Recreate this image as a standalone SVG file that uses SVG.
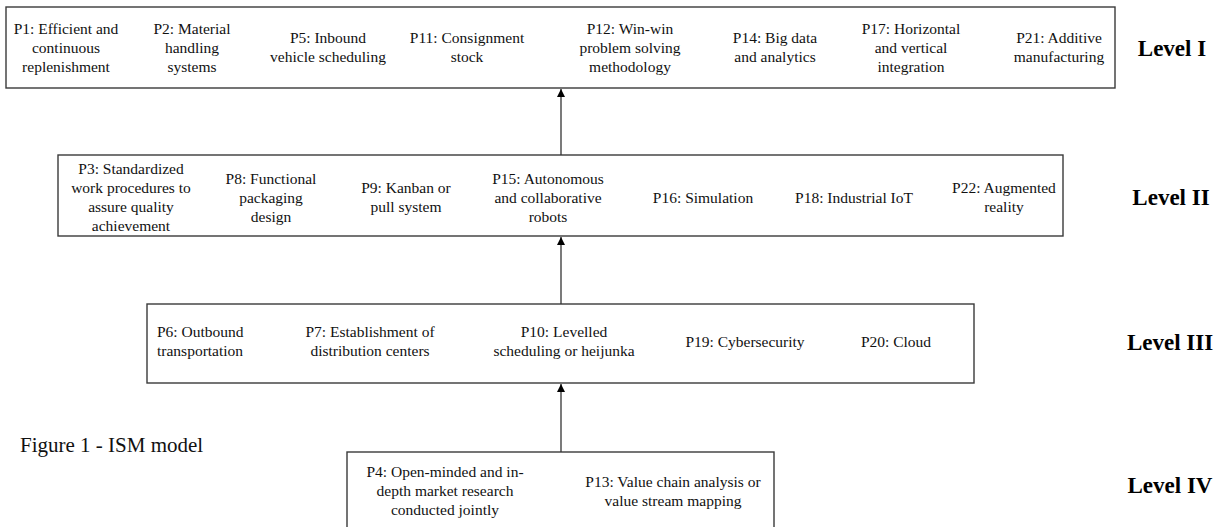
<svg xmlns="http://www.w3.org/2000/svg" width="1229" height="527" viewBox="0 0 1229 527">
<defs>
<style>
.box{fill:#fff;stroke:#3a3a3a;stroke-width:1.4}
.t{font-family:"Liberation Serif","Times New Roman",serif;font-size:15.5px;fill:#111;text-anchor:middle}
.l{text-anchor:start}
.lv{font-family:"Liberation Serif","Times New Roman",serif;font-size:23px;font-weight:bold;fill:#000;text-anchor:middle}
.cap{font-family:"Liberation Serif","Times New Roman",serif;font-size:21px;fill:#111}
.conn{stroke:#333;stroke-width:1.3;fill:none}
</style>
<marker id="arr" viewBox="0 0 8 10" refX="8" refY="5" markerWidth="8" markerHeight="10" markerUnits="userSpaceOnUse" orient="auto">
<path d="M0,1 L8,5 L0,9 Z" fill="#000"/>
</marker>
</defs>
<rect width="1229" height="527" fill="#fff"/>

<g id="level1">
<rect class="box" x="6" y="7" width="1109" height="81"/>
<text class="t"><tspan x="66" y="34">P1: Efficient and</tspan><tspan x="66" y="53">continuous</tspan><tspan x="66" y="72">replenishment</tspan></text>
<text class="t"><tspan x="192" y="34">P2: Material</tspan><tspan x="192" y="53">handling</tspan><tspan x="192" y="72">systems</tspan></text>
<text class="t"><tspan x="328" y="43">P5: Inbound</tspan><tspan x="328" y="62">vehicle scheduling</tspan></text>
<text class="t"><tspan x="467" y="43">P11: Consignment</tspan><tspan x="467" y="62">stock</tspan></text>
<text class="t"><tspan x="630" y="34">P12: Win-win</tspan><tspan x="630" y="53">problem solving</tspan><tspan x="630" y="72">methodology</tspan></text>
<text class="t"><tspan x="775" y="43">P14: Big data</tspan><tspan x="775" y="62">and analytics</tspan></text>
<text class="t"><tspan x="911" y="34">P17: Horizontal</tspan><tspan x="911" y="53">and vertical</tspan><tspan x="911" y="72">integration</tspan></text>
<text class="t"><tspan x="1059" y="43">P21: Additive</tspan><tspan x="1059" y="62">manufacturing</tspan></text>
<text class="lv" x="1172" y="56">Level I</text>
</g>

<g id="level2">
<rect class="box" x="58" y="155" width="1005" height="81"/>
<text class="t"><tspan x="131" y="174">P3: Standardized</tspan><tspan x="131" y="193">work procedures to</tspan><tspan x="131" y="212">assure quality</tspan><tspan x="131" y="231">achievement</tspan></text>
<text class="t"><tspan x="271" y="184">P8: Functional</tspan><tspan x="271" y="203">packaging</tspan><tspan x="271" y="222">design</tspan></text>
<text class="t"><tspan x="406" y="193">P9: Kanban or</tspan><tspan x="406" y="212">pull system</tspan></text>
<text class="t"><tspan x="548" y="184">P15: Autonomous</tspan><tspan x="548" y="203">and collaborative</tspan><tspan x="548" y="222">robots</tspan></text>
<text class="t" x="703" y="203">P16: Simulation</text>
<text class="t" x="854" y="203">P18: Industrial IoT</text>
<text class="t"><tspan x="1004" y="193">P22: Augmented</tspan><tspan x="1004" y="212">reality</tspan></text>
<text class="lv" x="1171" y="205">Level II</text>
</g>

<g id="level3">
<rect class="box" x="147" y="304" width="827" height="79"/>
<text class="t l"><tspan x="157" y="337">P6: Outbound</tspan><tspan x="157" y="356">transportation</tspan></text>
<text class="t"><tspan x="370" y="337">P7: Establishment of</tspan><tspan x="370" y="356">distribution centers</tspan></text>
<text class="t"><tspan x="564" y="337">P10: Levelled</tspan><tspan x="564" y="356">scheduling or heijunka</tspan></text>
<text class="t" x="745" y="347">P19: Cybersecurity</text>
<text class="t" x="896" y="347">P20: Cloud</text>
<text class="lv" x="1170" y="350">Level III</text>
</g>

<g id="level4">
<rect class="box" x="347" y="452" width="427" height="90"/>
<text class="t"><tspan x="445" y="477">P4: Open-minded and in-</tspan><tspan x="445" y="496">depth market research</tspan><tspan x="445" y="515">conducted jointly</tspan></text>
<text class="t"><tspan x="673" y="487">P13: Value chain analysis or</tspan><tspan x="673" y="506">value stream mapping</tspan></text>
<text class="lv" x="1170" y="493">Level IV</text>
</g>

<g id="caption">
<text class="cap" x="20" y="452">Figure 1 - ISM model</text>
</g>

<g id="connectors">
<line class="conn" x1="561" y1="155" x2="561" y2="89" marker-end="url(#arr)"/>
<line class="conn" x1="561" y1="304" x2="561" y2="237" marker-end="url(#arr)"/>
<line class="conn" x1="561" y1="452" x2="561" y2="384" marker-end="url(#arr)"/>
</g>
</svg>
